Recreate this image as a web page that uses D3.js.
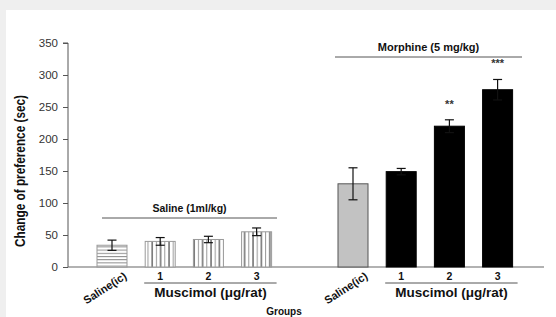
<!DOCTYPE html>
<html>
<head>
<meta charset="utf-8">
<script src="https://cdn.jsdelivr.net/npm/d3@7"></script>
<style>
  body { margin: 0; background: #efefef; }
  svg { display: block; }
</style>
</head>
<body>
<div id="main"></div>
<script>
const cte = {
    w: 556,
    h: 317,
    axisLeft: 68,
    axisRight: 544,
    top: 43,
    bottom: 267,
    barWidth: 30
};

// chart values
const groups = ["Saline(ic)", "1", "2", "3", "Saline(ic)", "1", "2", "3"];
const slots = [0, 1, 2, 3, 5, 6, 7, 8];
const means = [34, 40, 43, 55, 130, 149, 220, 277];
const errors = [8, 6, 5, 6, 25, 5, 10, 16];
const fills = ["hatchH", "hatchV", "hatchV", "hatchV", "gray", "black", "black", "black"];
const stars = ["", "", "", "", "", "", "**", "***"];
const yTicks = [0, 50, 100, 150, 200, 250, 300, 350];

const svg = d3.select("#main").append("svg")
    .attr("width", cte.w)
    .attr("height", cte.h);

// white plotting card on the light gray page
svg.append("rect")
    .attr("x", 6).attr("y", 10)
    .attr("width", cte.w - 6).attr("height", cte.h - 10)
    .attr("fill", "white");

const defs = svg.append("defs");
const ph = defs.append("pattern")
    .attr("id", "hatchH")
    .attr("patternUnits", "userSpaceOnUse")
    .attr("width", 6).attr("height", 3.2);
ph.append("rect").attr("width", 6).attr("height", 3.2).attr("fill", "white");
ph.append("line").attr("x1", 0).attr("x2", 6).attr("y1", 0.5).attr("y2", 0.5)
    .attr("stroke", "#8a8a8a").attr("stroke-width", 1);

const pv = defs.append("pattern")
    .attr("id", "hatchV")
    .attr("patternUnits", "userSpaceOnUse")
    .attr("width", 8.4).attr("height", 6);
pv.append("rect").attr("width", 8.4).attr("height", 6).attr("fill", "white");
pv.append("line").attr("x1", 1).attr("x2", 1).attr("y1", 0).attr("y2", 6)
    .attr("stroke", "#222").attr("stroke-width", 1);
pv.append("line").attr("x1", 5.2).attr("x2", 5.2).attr("y1", 0).attr("y2", 6)
    .attr("stroke", "#999").attr("stroke-width", 1);

const xScale = d3.scaleLinear()
    .domain([0, 8])
    .range([112, 497.6]);

const yScale = d3.scaleLinear()
    .domain([0, 350])
    .range([cte.bottom, cte.top]);

const font = "'Liberation Sans', Arial, sans-serif";

// y axis
const yAxis = d3.axisLeft(yScale)
    .tickValues(yTicks)
    .tickSize(5)
    .tickPadding(5);

const gy = svg.append("g")
    .attr("transform", `translate(${cte.axisLeft},0)`)
    .call(yAxis);
gy.select(".domain").attr("stroke", "#555").attr("d", `M-5,${cte.top}H0V${cte.bottom}`);
gy.selectAll(".tick line").attr("stroke", "#555");
gy.selectAll(".tick text")
    .style("font-family", font)
    .style("font-size", "11.5px")
    .attr("fill", "#333");

// x axis line
svg.append("line")
    .attr("x1", cte.axisLeft).attr("x2", cte.axisRight)
    .attr("y1", cte.bottom).attr("y2", cte.bottom)
    .attr("stroke", "#666").attr("stroke-width", 1.2);

const data = groups.map((g, i) => ({
    group: g, slot: slots[i], mean: means[i], err: errors[i], fill: fills[i], star: stars[i]
}));

function fillOf(d) {
    if (d.fill === "gray") return "#c2c2c2";
    if (d.fill === "black") return "#000";
    return `url(#${d.fill})`;
}

// bars
svg.selectAll(".bar")
    .data(data)
    .enter().append("rect")
    .attr("class", "bar")
    .attr("x", d => xScale(d.slot) - cte.barWidth / 2)
    .attr("y", d => yScale(d.mean))
    .attr("width", cte.barWidth)
    .attr("height", d => cte.bottom - yScale(d.mean))
    .attr("fill", fillOf)
    .attr("stroke", d => d.fill === "black" ? "#000" : (d.fill === "gray" ? "#555" : "#999"))
    .attr("stroke-width", 1);

// error bars
const eb = svg.selectAll(".err")
    .data(data)
    .enter().append("g")
    .attr("class", "err")
    .attr("stroke", "#111")
    .attr("stroke-width", 1.2);
eb.append("line")
    .attr("x1", d => xScale(d.slot)).attr("x2", d => xScale(d.slot))
    .attr("y1", d => yScale(d.mean - d.err)).attr("y2", d => yScale(d.mean + d.err));
eb.append("line")
    .attr("x1", d => xScale(d.slot) - 4.5).attr("x2", d => xScale(d.slot) + 4.5)
    .attr("y1", d => yScale(d.mean + d.err)).attr("y2", d => yScale(d.mean + d.err));
eb.append("line")
    .attr("x1", d => xScale(d.slot) - 4.5).attr("x2", d => xScale(d.slot) + 4.5)
    .attr("y1", d => yScale(d.mean - d.err)).attr("y2", d => yScale(d.mean - d.err));

// significance stars
svg.selectAll(".star")
    .data(data.filter(d => d.star))
    .enter().append("text")
    .attr("x", d => xScale(d.slot))
    .attr("y", d => yScale(d.mean + d.err) - 12)
    .attr("text-anchor", "middle")
    .style("font-family", font)
    .style("font-size", "11px")
    .style("font-weight", "bold")
    .attr("fill", "#333")
    .text(d => d.star);

// category labels
data.forEach(d => {
    if (d.group === "Saline(ic)") {
        svg.append("text")
            .attr("transform", `translate(${xScale(d.slot) + 11},${cte.bottom + 4}) rotate(-33)`)
            .attr("text-anchor", "end")
            .attr("dy", "0.75em")
            .style("font-family", font)
            .style("font-size", "11px")
            .style("font-weight", "bold")
            .attr("fill", "#111")
            .text(d.group);
    } else {
        svg.append("text")
            .attr("x", xScale(d.slot))
            .attr("y", cte.bottom + 13)
            .attr("text-anchor", "middle")
            .style("font-family", font)
            .style("font-size", "10.5px")
            .style("font-weight", "bold")
            .attr("fill", "#111")
            .text(d.group);
    }
});

// Muscimol brackets under each group
[[1, 3], [6, 8]].forEach(([a, b]) => {
    svg.append("line")
        .attr("x1", xScale(a) - 16).attr("x2", xScale(b) + 20)
        .attr("y1", cte.bottom + 16).attr("y2", cte.bottom + 16)
        .attr("stroke", "#555").attr("stroke-width", 1);
    svg.append("text")
        .attr("x", (xScale(a) + xScale(b)) / 2 + 2)
        .attr("y", cte.bottom + 30)
        .attr("text-anchor", "middle")
        .style("font-family", font)
        .style("font-size", "13.5px")
        .style("font-weight", "bold")
        .attr("fill", "#111")
        .text("Muscimol (μg/rat)");
});

// treatment headers
const headers = [
    { label: "Saline (1ml/kg)", x1: 102, x2: 277, y: 218, size: "10.5px" },
    { label: "Morphine (5 mg/kg)", x1: 335, x2: 522, y: 57, size: "11px" }
];
headers.forEach(h => {
    svg.append("line")
        .attr("x1", h.x1).attr("x2", h.x2)
        .attr("y1", h.y).attr("y2", h.y)
        .attr("stroke", "#555").attr("stroke-width", 1);
    svg.append("text")
        .attr("x", (h.x1 + h.x2) / 2)
        .attr("y", h.y - 6)
        .attr("text-anchor", "middle")
        .style("font-family", font)
        .style("font-size", h.size)
        .style("font-weight", "bold")
        .attr("fill", "#111")
        .text(h.label);
});

// axis titles
svg.append("text")
    .attr("transform", `translate(25,171) rotate(-90)`)
    .attr("text-anchor", "middle")
    .attr("textLength", 152)
    .attr("lengthAdjust", "spacingAndGlyphs")
    .style("font-family", font)
    .style("font-size", "15px")
    .style("font-weight", "bold")
    .attr("fill", "#111")
    .text("Change of preference (sec)");

svg.append("text")
    .attr("x", 284)
    .attr("y", 315)
    .attr("text-anchor", "middle")
    .style("font-family", font)
    .style("font-size", "10px")
    .style("font-weight", "bold")
    .attr("fill", "#111")
    .text("Groups");
</script>
</body>
</html>
